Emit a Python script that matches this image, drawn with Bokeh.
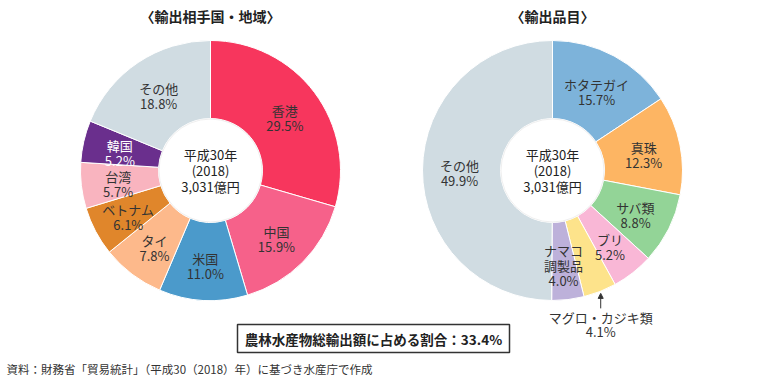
import math
from bokeh.plotting import figure
from bokeh.models import Range1d, Arrow, NormalHead
from bokeh.core.properties import value
from bokeh.embed import file_html
from bokeh.resources import INLINE

FONT = "Noto Sans CJK JP"

# ---- data ----
partner_names = ["香港", "中国", "米国", "タイ", "ベトナム", "台湾", "韓国", "その他"]
partner_shares = [29.5, 15.9, 11.0, 7.8, 6.1, 5.7, 5.2, 18.8]
partner_colors = ["#F7365D", "#F6618A", "#4B9ACB", "#FDB98B", "#E0862B",
                  "#F9B4BF", "#6A2F8D", "#D0DCE2"]
partner_text_colors = ["#333333"] * 6 + ["#FFFFFF", "#333333"]

item_names = ["ホタテガイ", "真珠", "サバ類", "ブリ", "マグロ・カジキ類", "ナマコ\n調製品", "その他"]
item_shares = [15.7, 12.3, 8.8, 5.2, 4.1, 4.0, 49.9]
item_colors = ["#7DB3DA", "#FDB563", "#93D497", "#F9B7D6", "#FDE38B", "#BDB1DA", "#D0DCE2"]
item_text_colors = ["#333333"] * 7
item_outside = ["マグロ・カジキ類"]

center_lines = ["平成30年", "(2018)", "3,031億円"]
titles = ["〈輸出相手国・地域〉", "〈輸出品目〉"]
share_note = "農林水産物総輸出額に占める割合：33.4%"
source_note = "資料：財務省「貿易統計」（平成30（2018）年）に基づき水産庁で作成"

IMG_W, IMG_H = 760, 381


def Y(py):
    return IMG_H - py


p = figure(width=IMG_W, height=IMG_H, x_range=Range1d(0, IMG_W), y_range=Range1d(0, IMG_H),
           output_backend="svg", toolbar_location=None, min_border=0,
           x_axis_location=None, y_axis_location=None)
p.grid.visible = False
p.outline_line_color = None
p.background_fill_color = "white"
p.border_fill_color = "white"

R_OUT, R_IN, R_LAB = 130, 52, 93
LINE = 15


def donut(cx, cy_img, names, shares, colors, tcolors, outside=()):
    cy = Y(cy_img)
    total = sum(shares)
    starts, ends, mids = [], [], []
    c = 0.0
    for s in shares:
        a0 = math.pi / 2 - 2 * math.pi * c / total
        c += s
        a1 = math.pi / 2 - 2 * math.pi * c / total
        starts.append(a1)
        ends.append(a0)
        mids.append((a0 + a1) / 2)
    p.annular_wedge(x=cx, y=cy, inner_radius=R_IN, outer_radius=R_OUT,
                    start_angle=starts, end_angle=ends, direction="anticlock",
                    fill_color=colors, line_color="white", line_width=1)
    p.scatter(x=[cx], y=[cy], size=2 * R_IN - 1, fill_color="white",
              line_color="#E4E4E4", line_width=0.6)
    lx, ly, lt, lc = [], [], [], []
    for name, s, m, tc in zip(names, shares, mids, tcolors):
        lines = name.split("\n") + [f"{s:.1f}%"]
        if name in outside:
            tipx = cx + (R_OUT + 2) * math.cos(m)
            tipy = cy + (R_OUT + 2) * math.sin(m)
            p.add_layout(Arrow(end=NormalHead(size=5, fill_color="#333333",
                                              line_color="#333333"),
                               x_start=tipx, y_start=tipy - 15, x_end=tipx, y_end=tipy,
                               line_color="#333333", line_width=1))
            for i, t in enumerate(lines):
                lx.append(tipx)
                ly.append(tipy - 24 - i * 14)
                lt.append(t)
                lc.append(tc)
            continue
        bx = cx + R_LAB * math.cos(m)
        by = cy + R_LAB * math.sin(m) - 3
        n = len(lines)
        for i, t in enumerate(lines):
            lx.append(bx)
            ly.append(by + (n - 1) * LINE / 2 - i * LINE)
            lt.append(t)
            lc.append(tc)
    p.text(x=lx, y=ly, text=lt, text_color=lc, text_font=value(FONT),
           text_font_size="13px", text_align="center", text_baseline="middle")
    p.text(x=[cx] * 3, y=[cy + 16, cy, cy - 16], text=center_lines, text_color="#222222",
           text_font=value(FONT), text_font_size="13px", text_align="center",
           text_baseline="middle")


donut(210, 170, partner_names, partner_shares, partner_colors, partner_text_colors)
donut(552, 170, item_names, item_shares, item_colors, item_text_colors, item_outside)

p.text(x=[210, 552], y=[Y(15), Y(15)], text=titles, text_color="#222222",
       text_font=value(FONT), text_font_size="14px", text_font_style="bold",
       text_align="center", text_baseline="middle")

p.quad(left=[237], right=[509], top=[Y(324)], bottom=[Y(352)], fill_color="white",
       line_color="#333333", line_width=1.5)
p.text(x=[373], y=[Y(338)], text=[share_note], text_color="#222222",
       text_font=value(FONT), text_font_size="13.5px", text_font_style="bold",
       text_align="center", text_baseline="middle")

p.text(x=[6], y=[Y(368)], text=[source_note], text_color="#333333",
       text_font=value(FONT), text_font_size="11.5px", text_align="left",
       text_baseline="middle")

open("out.html", "w").write(file_html(p, INLINE))
